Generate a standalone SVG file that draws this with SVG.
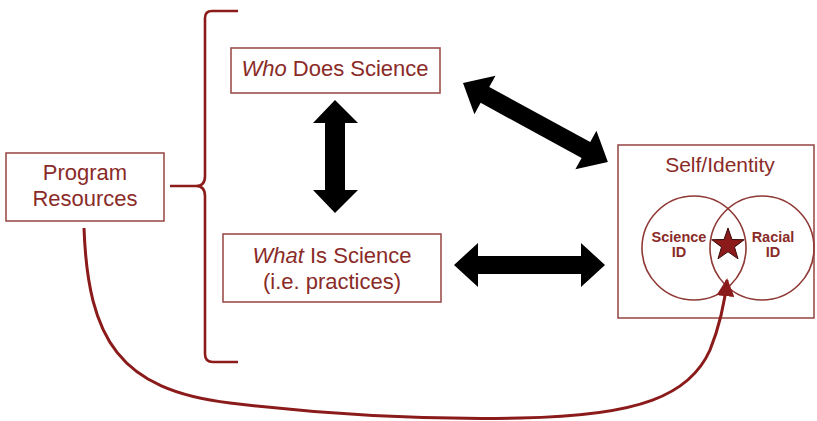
<svg xmlns="http://www.w3.org/2000/svg" width="817" height="421" viewBox="0 0 817 421">
  <defs>
    <style>
      .box { fill: #ffffff; stroke: #9b4f4c; stroke-width: 1.6; }
      .open { fill: none; }
      .lbl { font-family: "Liberation Sans", Arial, sans-serif; fill: #8a2b28; text-anchor: middle; }
      .big { font-size: 22px; }
      .small { font-size: 14.5px; font-weight: bold; }
      .ring { fill: none; stroke: #8f3a36; stroke-width: 1.6; }
      .brace { fill: none; stroke: #8b1c1a; stroke-width: 2.6; stroke-linejoin: round; }
      .fat { fill: #000000; }
    </style>
    <marker id="tri" viewBox="0 0 10 10" refX="9" refY="5" markerWidth="6" markerHeight="6" orient="auto" markerUnits="strokeWidth">
      <path d="M0,0 L10,5 L0,10 z" fill="#8b1a1a"/>
    </marker>
  </defs>

  <g id="program-resources">
    <rect class="box" x="6" y="153" width="158" height="68"/>
    <text class="lbl big" x="85" y="180">Program</text>
    <text class="lbl big" x="85" y="206">Resources</text>
  </g>

  <g id="who-does-science">
    <rect class="box" x="231" y="48" width="209" height="45"/>
    <text class="lbl big" x="335" y="76"><tspan font-style="italic">Who</tspan> Does Science</text>
  </g>

  <g id="what-is-science">
    <rect class="box" x="223" y="234" width="218" height="68"/>
    <text class="lbl big" x="332" y="263"><tspan font-style="italic">What</tspan> Is Science</text>
    <text class="lbl big" x="332" y="289">(i.e. practices)</text>
  </g>

  <g id="self-identity">
    <rect class="box open" x="618" y="145" width="196" height="173"/>
    <text class="lbl" x="720" y="172" font-size="21">Self/Identity</text>
    <circle class="ring" cx="694" cy="248" r="52"/>
    <circle class="ring" cx="762" cy="248" r="52"/>
    <text class="lbl small" x="679" y="242">Science</text>
    <text class="lbl small" x="679" y="257">ID</text>
    <text class="lbl small" x="773" y="242">Racial</text>
    <text class="lbl small" x="773" y="257">ID</text>
    <!-- star in the overlap of the two identities -->
    <polygon points="728,228 732,239.5 744.2,239.7 734.5,247.1 738,258.8 728,251.8 718,258.8 721.5,247.1 711.8,239.7 724,239.5" fill="#8b1a1a" stroke="#3a0a0a" stroke-width="1"/>
  </g>

  <g id="connectors">
    <!-- curly bracket grouping the two science boxes -->
    <path class="brace" d="M238,11 L212,11 Q205,11 205,18 L205,176 Q205,186 196,186 L170,186 M196,186 Q205,186 205,196 L205,354 Q205,362 213,362 L238,362"/>
    <!-- vertical double arrow -->
    <polygon class="fat" points="335,100 358,123 345,123 345,190 358,190 335,213 313,190 325,190 325,123 313,123"/>
    <!-- horizontal double arrow -->
    <polygon class="fat" points="454,265 478,243 478,256 581,256 581,243 605,265 581,287 581,274 478,274 478,287"/>
    <!-- diagonal double arrow -->
    <polygon class="fat" transform="translate(463,83) rotate(28.6)" points="0,0 25,-22 25,-9 140,-9 140,-22 165,0 140,22 140,9 25,9 25,22"/>
    <!-- program resources to the identity overlap -->
    <path d="M84,228 C88,340 120,390 230,403 C330,415 420,420 520,418 C640,416 690,395 710,350 C720,325 725,300 727,280" fill="none" stroke="#8b1a1a" stroke-width="3" marker-end="url(#tri)"/>
  </g>
</svg>
